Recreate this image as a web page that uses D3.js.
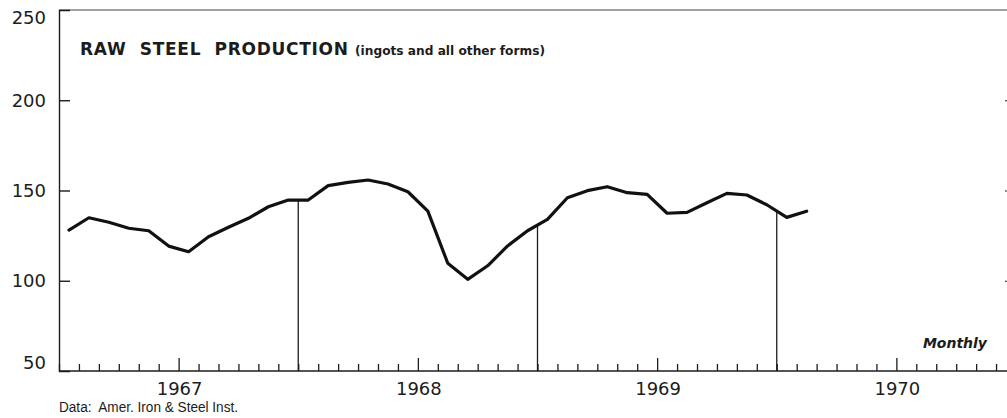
<!DOCTYPE html>
<html>
<head>
<meta charset="utf-8">
<script src="https://cdn.jsdelivr.net/npm/d3@7"></script>
<style>
  html, body { margin: 0; padding: 0; background: #fff; }
  svg { display: block; }
  text { fill: #1c1c1c; }
</style>
</head>
<body>
<script>
// ---- data ----
const years = ["1967", "1968", "1969", "1970"];
const values1967 = [128.1, 134.9, 132.4, 129.1, 127.7, 119.2, 116.1, 124.4, 129.6, 134.6, 141.0, 144.7];
const values1968 = [144.7, 152.7, 154.5, 155.8, 153.6, 149.3, 138.6, 109.7, 100.8, 108.3, 119.3, 127.7];
const values1969 = [134.0, 146.0, 149.9, 152.1, 148.8, 147.9, 137.4, 137.9, 143.2, 148.4, 147.5, 142.1];
const values1970 = [135.1, 138.5];
const yTicks = [250, 200, 150, 100, 50];
const title = "RAW STEEL PRODUCTION";
const subtitle = "(ingots and all other forms)";
const frequencyLabel = "Monthly";
const sourceLabel = "Data:  Amer. Iron & Steel Inst.";

const values = [].concat(values1967, values1968, values1969, values1970);
const series = values.map((v, i) => ({ m: i + 0.5, v }));

// ---- layout ----
const W = 1007, H = 418;
const svg = d3.select("body").append("svg").attr("width", W).attr("height", H);

const x = d3.scaleLinear().domain([0, years.length * 12]).range([59, 1016]);
const y = d3.scaleLinear().domain([50, 250]).range([371, 10]);

const ink = "#1c1c1c";

// top border
svg.append("line")
  .attr("x1", x(0)).attr("x2", W).attr("y1", y(250)).attr("y2", y(250))
  .attr("stroke", "#444").attr("stroke-width", 1.2);

// left axis (ticks pointing into the plot)
const leftAxis = svg.append("g").attr("transform", `translate(${x(0)},0)`)
  .call(d3.axisRight(y).tickValues([100, 150, 200]).tickSize(11).tickFormat(""));
leftAxis.select(".domain").attr("stroke", ink).attr("stroke-width", 1.4);
leftAxis.selectAll(".tick line").attr("stroke", ink).attr("stroke-width", 1.4);

// right axis (mostly off-canvas, tick stubs visible)
const rightAxis = svg.append("g").attr("transform", `translate(${x(years.length * 12)},0)`)
  .call(d3.axisLeft(y).tickValues([100, 150, 200]).tickSize(11).tickFormat(""));
rightAxis.select(".domain").remove();
rightAxis.selectAll(".tick line").attr("stroke", ink).attr("stroke-width", 1.2);

// y labels
svg.append("g").selectAll("text").data(yTicks).join("text")
  .attr("x", 46)
  .attr("y", d => y(d) + (d === 250 ? 9 : d === 50 ? -7 : 1.5))
  .attr("text-anchor", "end")
  .attr("dominant-baseline", "middle")
  .attr("font-family", "'DejaVu Sans', sans-serif")
  .attr("font-size", 18)
  .text(d => d);

// bottom axis with monthly ticks (upward)
const monthTicks = d3.range(0, years.length * 12 + 1);
const bottomAxis = svg.append("g").attr("transform", `translate(0,${y(50)})`)
  .call(d3.axisBottom(x).tickValues(monthTicks).tickSize(-7).tickFormat(""));
bottomAxis.select(".domain").attr("d", `M${x(0)},0H${W}`).attr("stroke", ink).attr("stroke-width", 1.6);
bottomAxis.selectAll(".tick line")
  .attr("stroke", ink).attr("stroke-width", 1.3)
  .attr("y2", d => (d % 12 === 6 ? -13 : -7));

// year labels
svg.append("g").selectAll("text").data(years).join("text")
  .attr("x", (d, i) => x(i * 12 + 6) + 1)
  .attr("y", 395)
  .attr("text-anchor", "middle")
  .attr("font-family", "'DejaVu Sans', sans-serif")
  .attr("font-size", 18)
  .text(d => d);

// year-boundary drop lines, from the curve down to the axis
const boundaries = d3.range(1, years.length).map(k => k * 12).filter(b => b < values.length);
svg.append("g").selectAll("line").data(boundaries).join("line")
  .attr("x1", b => x(b)).attr("x2", b => x(b))
  .attr("y1", b => y((values[b - 1] + values[b]) / 2))
  .attr("y2", y(50))
  .attr("stroke", ink).attr("stroke-width", 1.3);

// data line
svg.append("path")
  .datum(series)
  .attr("fill", "none")
  .attr("stroke", "#111")
  .attr("stroke-width", 3.2)
  .attr("stroke-linejoin", "round")
  .attr("stroke-linecap", "round")
  .attr("d", d3.line().x(d => x(d.m)).y(d => y(d.v)));

// title
svg.append("text")
  .attr("x", 80).attr("y", 55)
  .attr("font-family", "'DejaVu Sans', sans-serif")
  .attr("font-weight", "bold")
  .attr("font-size", 17)
  .attr("textLength", 268)
  .attr("lengthAdjust", "spacing")
  .style("white-space", "pre")
  .text(title.replace(/ /g, "  "));

svg.append("text")
  .attr("x", 355).attr("y", 55)
  .attr("font-family", "'DejaVu Sans', sans-serif")
  .attr("font-weight", "bold")
  .attr("font-size", 11.5)
  .attr("textLength", 190)
  .attr("lengthAdjust", "spacingAndGlyphs")
  .text(subtitle);

// frequency label
svg.append("text")
  .attr("x", 987).attr("y", 348)
  .attr("text-anchor", "end")
  .attr("font-family", "'DejaVu Sans', sans-serif")
  .attr("font-weight", "bold")
  .attr("font-style", "italic")
  .attr("font-size", 14)
  .text(frequencyLabel);

// source
svg.append("text")
  .attr("x", 59).attr("y", 412)
  .attr("font-family", "'Liberation Sans', sans-serif")
  .attr("font-size", 14)
  .attr("textLength", 179)
  .attr("lengthAdjust", "spacingAndGlyphs")
  .style("white-space", "pre")
  .text(sourceLabel);
</script>
</body>
</html>
